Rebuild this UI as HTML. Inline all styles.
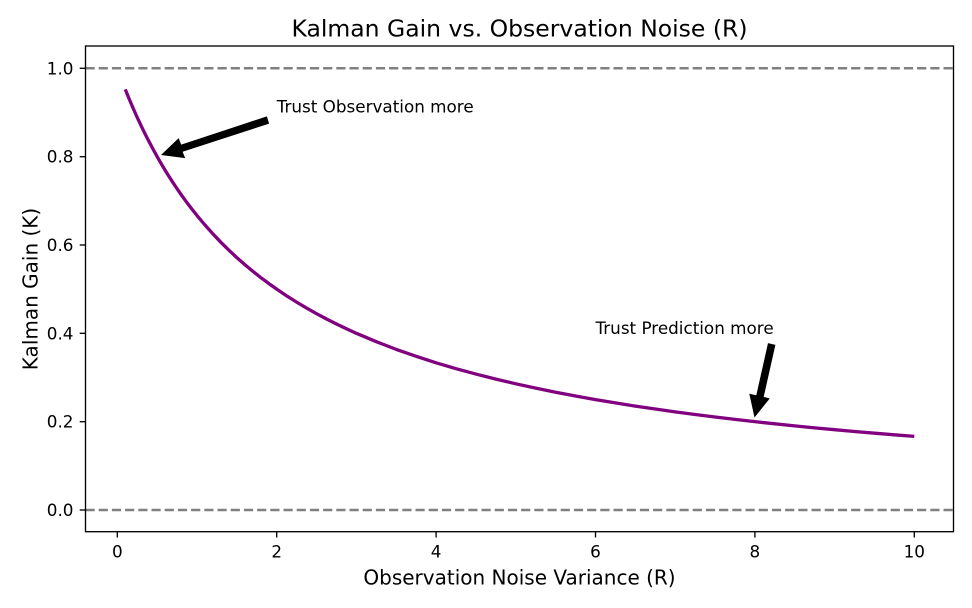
<!DOCTYPE html>
<html>
<head>
<meta charset="utf-8">
<style>
html,body{margin:0;padding:0;background:#fff;}
svg{display:block;}
text{font-family:"DejaVu Sans","Liberation Sans",sans-serif;fill:#000;}
</style>
</head>
<body>
<svg width="972" height="608" viewBox="0 0 972 608" xmlns="http://www.w3.org/2000/svg">
<rect x="0" y="0" width="972" height="608" fill="#fff"/>
<!-- dashed reference lines -->
<line x1="85.5" y1="68.3" x2="953.5" y2="68.3" stroke="#808080" stroke-width="2.5" stroke-dasharray="9.2 4"/>
<line x1="85.5" y1="510" x2="953.5" y2="510" stroke="#808080" stroke-width="2.5" stroke-dasharray="9.2 4"/>
<!-- curve -->
<polyline fill="none" stroke="#800080" stroke-width="3.3" stroke-linejoin="round" stroke-linecap="butt" points="125.27,89.33 127.26,94.3 129.25,99.1 131.25,103.84 133.24,108.45 135.23,112.98 137.22,117.4 139.22,121.71 141.21,125.91 143.2,130.05 145.2,134.1 147.19,138.06 149.18,141.92 153.17,149.38 157.15,156.64 161.14,163.56 165.12,170.23 169.1,176.6 173.09,182.81 177.08,188.75 181.06,194.5 185.05,200.03 189.03,205.38 193.02,210.55 197,215.53 204.97,225 212.94,233.94 220.91,242.3 228.88,250.17 236.85,257.61 244.82,264.61 252.79,271.24 260.76,277.52 268.73,283.49 276.7,289.15 286.67,295.85 296.63,302.14 306.59,308.09 316.55,313.69 326.52,319.0 336.48,324.02 346.44,328.8 356.4,333.32 376.33,341.69 396.25,349.38 416.18,356.31 436.1,362.77 456.03,368.66 475.95,374.09 495.88,379.14 515.8,383.8 535.73,388.15 555.65,392.21 575.58,396.01 595.5,399.58 615.43,402.93 635.35,406.07 655.28,409.04 675.2,411.84 695.13,414.5 715.05,417.01 735.0,419.4 754.9,421.66 774.83,423.82 794.75,425.87 814.68,427.83 834.6,429.69 854.53,431.48 874.45,433.18 894.38,434.82 914.3,436.38"/>
<!-- arrows -->
<polygon fill="#000" points="266.88,116.4 181.2,144.6 178.65,138.18 161,155 185.17,158.14 182.6,151.8 269.12,123.6"/>
<polygon fill="#000" points="768,343.13 756.3,395.2 749.29,393.69 754.5,417.5 769.73,398.47 763.7,396.9 775.4,344.87"/>
<text x="276.7" y="112.3" font-size="16.8">Trust Observation more</text>
<text x="595.5" y="334" font-size="16.8">Trust Prediction more</text>
<!-- axes frame -->
<rect x="85.5" y="46" width="868" height="485.7" fill="none" stroke="#000" stroke-width="1.33"/>
<!-- x ticks -->
<g stroke="#000" stroke-width="1.33">
<line x1="117.3" y1="531.7" x2="117.3" y2="537.5"/>
<line x1="276.7" y1="531.7" x2="276.7" y2="537.5"/>
<line x1="436.1" y1="531.7" x2="436.1" y2="537.5"/>
<line x1="595.5" y1="531.7" x2="595.5" y2="537.5"/>
<line x1="754.9" y1="531.7" x2="754.9" y2="537.5"/>
<line x1="914.3" y1="531.7" x2="914.3" y2="537.5"/>
</g>
<g font-size="16.8" text-anchor="middle">
<text x="117.3" y="557.5">0</text>
<text x="276.7" y="557.5">2</text>
<text x="436.1" y="557.5">4</text>
<text x="595.5" y="557.5">6</text>
<text x="754.9" y="557.5">8</text>
<text x="914.3" y="557.5">10</text>
</g>
<!-- y ticks -->
<g stroke="#000" stroke-width="1.33">
<line x1="79.7" y1="510" x2="85.5" y2="510"/>
<line x1="79.7" y1="421.7" x2="85.5" y2="421.7"/>
<line x1="79.7" y1="333.3" x2="85.5" y2="333.3"/>
<line x1="79.7" y1="245" x2="85.5" y2="245"/>
<line x1="79.7" y1="156.7" x2="85.5" y2="156.7"/>
<line x1="79.7" y1="68.3" x2="85.5" y2="68.3"/>
</g>
<g font-size="16.8" text-anchor="end">
<text x="73.5" y="516">0.0</text>
<text x="73.5" y="427.7">0.2</text>
<text x="73.5" y="339.3">0.4</text>
<text x="73.5" y="251">0.6</text>
<text x="73.5" y="162.7">0.8</text>
<text x="73.5" y="74.3">1.0</text>
</g>
<!-- labels -->
<text x="519.5" y="36.5" font-size="23.5" text-anchor="middle">Kalman Gain vs. Observation Noise (R)</text>
<text x="519.5" y="584.3" font-size="20" text-anchor="middle">Observation Noise Variance (R)</text>
<text transform="translate(37.5,289) rotate(-90)" x="0" y="0" font-size="20" text-anchor="middle">Kalman Gain (K)</text>
</svg>
</body>
</html>
